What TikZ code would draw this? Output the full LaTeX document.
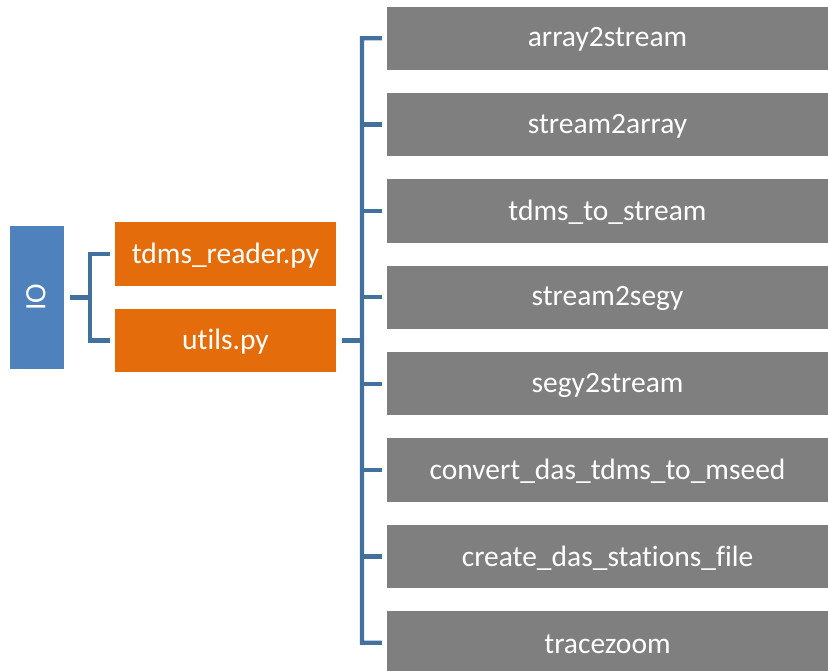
\documentclass[tikz,border=0pt]{standalone}
\usepackage{fontspec}
\setmainfont{Carlito}[RawFeature={-liga;-clig;-dlig;-calt}]
\definecolor{iobox}{HTML}{4F81BD}
\definecolor{filebox}{HTML}{E46C0A}
\definecolor{funcbox}{HTML}{7F7F7F}
\definecolor{linkblue}{HTML}{41719C}
\begin{document}
\begin{tikzpicture}[x=1pt,y=-1pt,
  box/.style={draw=none,minimum height=63.5pt,inner sep=0pt,text=white,font=\fontsize{29.5}{34}\selectfont},
  iostyle/.style={box,fill=iobox,minimum width=54pt,minimum height=143pt},
  filestyle/.style={box,fill=filebox,minimum width=221pt},
  funcstyle/.style={box,fill=funcbox,minimum width=441pt},
  lbl/.style={text=white,font=\fontsize{29.5}{34}\selectfont,inner sep=0pt},
  link/.style={draw=linkblue,line width=4.3pt}]
\useasboundingbox (0,0) rectangle (828,670);
\clip (0,0) rectangle (828,670);
% package node
\node[iostyle] (io) at (37,297.5) {};
\node[lbl,rotate=90] at ([xshift=-1pt]io.center) {IO};
% module nodes
\node[filestyle] (reader) at (225.5,254) {};
\node[lbl] at ([yshift=-1.5pt]reader.center) {tdms\_reader.py};
\node[filestyle] (utils) at (225.5,340.5) {};
\node[lbl] at ([yshift=-1.5pt]utils.center) {utils.py};
% function nodes
\foreach \name/\txt [count=\i from 0] in {f1/array2stream,f2/stream2array,f3/tdms\_to\_stream,f4/stream2segy,f5/segy2stream,f6/convert\_das\_tdms\_to\_mseed,f7/create\_das\_stations\_file,f8/tracezoom}{
  \node[funcstyle] (\name) at (607.5,38.25+86.35*\i) {};
  \node[lbl] at ([yshift=-1.5pt]\name.center) {\txt};
}
% bracket from IO to its modules
\coordinate (lb) at (90,297.5);
\draw[link] ([xshift=6pt]io.east) -- (lb);
\draw[link] ([xshift=-5pt]reader.west) -| (90,340.5) -- ([xshift=-5pt]utils.west);
% bracket from utils.py to its functions
\coordinate (rb) at (362,340.5);
\draw[link] ([xshift=6pt]utils.east) -- (rb);
\draw[link] ([xshift=-5pt]f1.west) -| (362,642.7) -- ([xshift=-5pt]f8.west);
\foreach \name in {f2,f3,f4,f5,f6,f7}{
  \draw[link] (362,0 |- \name.west) -- ([xshift=-5pt]\name.west);
}
\end{tikzpicture}
\end{document}
